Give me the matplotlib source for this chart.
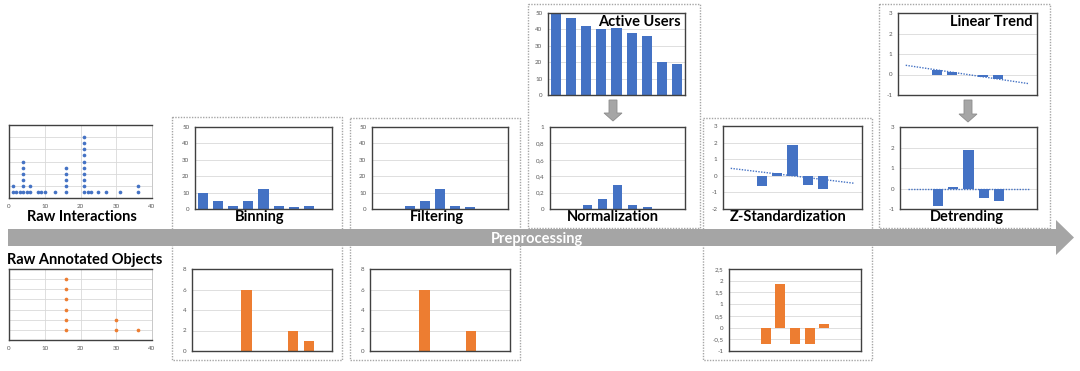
import numpy as np
import matplotlib
matplotlib.use("Agg")
import matplotlib.pyplot as plt
from matplotlib.patches import Rectangle, FancyArrow

plt.rcParams['font.family'] = ['Lato', 'DejaVu Sans']

# --- data ---
interact_x = [1, 2, 3, 4, 5, 6, 8, 9, 10, 13, 16, 21, 22, 23, 25, 27, 31, 36]
interact_n = [2, 1, 1, 6, 1, 2, 1, 1, 1, 1, 5, 10, 1, 1, 1, 1, 1, 2]
annot_x = [16, 30, 36]
annot_n = [6, 2, 1]

binning_blue = [10, 5, 2, 5, 12, 2, 1, 2, 0]
filtering_blue = [0, 0, 2, 5, 12, 2, 1, 0, 0]
active_users = [50, 47, 42, 40, 41, 38, 36, 20, 19]
normalized = [0, 0, 0.053, 0.122, 0.294, 0.053, 0.03, 0, 0]
zstd_blue = [0, 0, -0.62, 0.15, 1.86, -0.58, -0.82, 0, 0]
trend_ends = [0.45, -0.45]
linear_trend = [0, 0, 0.22, 0.11, 0, -0.11, -0.22, 0, 0]
detrended = [0, 0, -0.85, 0.05, 1.87, -0.44, -0.59, 0, 0]

binning_orange = [0, 0, 0, 6, 0, 0, 2, 1, 0]
filtering_orange = [0, 0, 0, 6, 0, 0, 2, 0, 0]
zstd_orange = [0, 0, -0.69, 1.88, -0.69, -0.69, 0.16, 0, 0]

BLUE = '#4472c4'
ORANGE = '#ed7d31'
GRID = '#d9d9d9'
SPINE = '#404040'
TICK = '#595959'

W, H = 1080, 371
fig = plt.figure(figsize=(W / 100, H / 100), dpi=100)

# overlay in pixel coordinates for boxes, arrows and captions
ov = fig.add_axes([0, 0, 1, 1], zorder=0)
ov.set_xlim(0, W)
ov.set_ylim(H, 0)
ov.axis('off')


def add_px(l, t, r, b):
    return fig.add_axes([l / W, 1 - b / H, (r - l) / W, (b - t) / H], zorder=2)


def style(ax):
    for s in ax.spines.values():
        s.set_color(SPINE)
        s.set_linewidth(1)
    ax.tick_params(length=0, labelsize=4.5, colors=TICK, pad=4)
    ax.set_axisbelow(True)


def bar_panel(box, vals, color, ylim, yticks, ylabels):
    ax = add_px(*box)
    x = np.arange(len(vals))
    ax.bar(x, vals, width=0.66, color=color, linewidth=0)
    ax.set_xlim(-0.5, len(vals) - 0.5)
    ax.set_ylim(*ylim)
    ax.set_yticks(yticks)
    ax.set_yticklabels(ylabels)
    ax.set_xticks([])
    ax.grid(axis='y', color=GRID, lw=0.6)
    style(ax)
    return ax


def dot_panel(box, xs, ns, color, ymax, ygrid):
    ax = add_px(*box)
    px, py = [], []
    for xv, n in zip(xs, ns):
        for k in range(1, n + 1):
            px.append(xv)
            py.append(k)
    ax.scatter(px, py, s=7, color=color, zorder=3, linewidths=0)
    ax.set_xlim(0, 40)
    ax.set_ylim(0, ymax)
    ax.set_xticks([0, 10, 20, 30, 40])
    ax.set_yticks(ygrid)
    ax.set_yticklabels([])
    ax.grid(color=GRID, lw=0.6)
    style(ax)
    ax.spines['right'].set_color('#bfbfbf')
    ax.spines['right'].set_linewidth(0.6)
    return ax


# dotted group boxes
for l, t, r, b in [(172, 117, 342, 360), (350, 118, 520, 360), (528, 4, 700, 228),
                   (703, 118, 872, 360), (879, 4, 1050, 228)]:
    ov.add_patch(Rectangle((l, t), r - l, b - t, fill=False, ec='#a6a6a6',
                           lw=1.0, ls=(0, (1, 1)), zorder=1))

# main preprocessing arrow
ov.add_patch(FancyArrow(8, 237.5, 1066, 0, width=17, head_width=35, head_length=18,
                        length_includes_head=True, color='#a5a5a5', lw=0, zorder=3))
ov.text(537, 238.5, 'Preprocessing', color='white', fontsize=10.5, fontweight='bold',
        ha='center', va='center', zorder=4)

# small down arrows
for xc, y0, y1 in [(613, 100, 121), (968, 100, 122)]:
    ov.add_patch(FancyArrow(xc, y0, 0, y1 - y0, width=8, head_width=18, head_length=8,
                            length_includes_head=True, fc='#a6a6a6', ec='#8c8c8c',
                            lw=0.6, zorder=3))

# captions
caps = [('Raw Interactions', 82, 221), ('Binning', 260, 221), ('Filtering', 437, 221),
        ('Normalization', 613, 221), ('Z-Standardization', 788, 221),
        ('Detrending', 967, 221), ('Raw Annotated Objects', 85, 264)]
for txt, x, y in caps:
    ov.text(x, y, txt, fontsize=10.5, fontweight='bold', ha='center', va='baseline',
            color='black', zorder=4)

# dot plots
dot_panel((9, 125, 152, 198), interact_x, interact_n, BLUE, 12, [2, 4, 6, 8, 10])
dot_panel((9, 269, 152, 340), annot_x, annot_n, ORANGE, 7, [1, 2, 3, 4, 5, 6])

t50 = [0, 10, 20, 30, 40, 50]
l50 = [str(v) for v in t50]

bar_panel((195, 127, 332, 209), binning_blue, BLUE, (0, 50), t50, l50)
bar_panel((372, 127, 508, 209), filtering_blue, BLUE, (0, 50), t50, l50)

ax = bar_panel((548, 13, 685, 95), active_users, BLUE, (0, 50), t50, l50)
ax.text(0.97, 0.84, 'Active Users', transform=ax.transAxes, ha='right', va='baseline',
        fontsize=10.5, fontweight='bold')

bar_panel((550, 127, 685, 209), normalized, BLUE, (0, 1),
          [0, 0.2, 0.4, 0.6, 0.8, 1], ['0', '0,2', '0,4', '0,6', '0,8', '1'])

ax = bar_panel((723, 126, 862, 209), zstd_blue, BLUE, (-2, 3),
               [-2, -1, 0, 1, 2, 3], ['-2', '-1', '0', '1', '2', '3'])
ax.plot([0, len(zstd_blue) - 1], trend_ends, color=BLUE, lw=1, ls=(0, (1, 1)), zorder=4)

ax = bar_panel((898, 13, 1037, 95), linear_trend, BLUE, (-1, 3),
               [-1, 0, 1, 2, 3], ['-1', '0', '1', '2', '3'])
ax.plot([0, len(linear_trend) - 1], trend_ends, color=BLUE, lw=1, ls=(0, (1, 1)), zorder=4)
ax.text(0.97, 0.84, 'Linear Trend', transform=ax.transAxes, ha='right', va='baseline',
        fontsize=10.5, fontweight='bold')

ax = bar_panel((900, 127, 1037, 209), detrended, BLUE, (-1, 3),
               [-1, 0, 1, 2, 3], ['-1', '0', '1', '2', '3'])
ax.plot([0, len(detrended) - 1], [0, 0], color=BLUE, lw=1, ls=(0, (1, 1)), zorder=4)

t8 = [0, 2, 4, 6, 8]
bar_panel((192, 269, 332, 351), binning_orange, ORANGE, (0, 8), t8, [str(v) for v in t8])
bar_panel((370, 269, 510, 351), filtering_orange, ORANGE, (0, 8), t8, [str(v) for v in t8])
bar_panel((729, 269, 861, 351), zstd_orange, ORANGE, (-1, 2.5),
          [-1, -0.5, 0, 0.5, 1, 1.5, 2, 2.5],
          ['-1', '-0,5', '0', '0,5', '1', '1,5', '2', '2,5'])

fig.savefig('out.png', dpi=100)
